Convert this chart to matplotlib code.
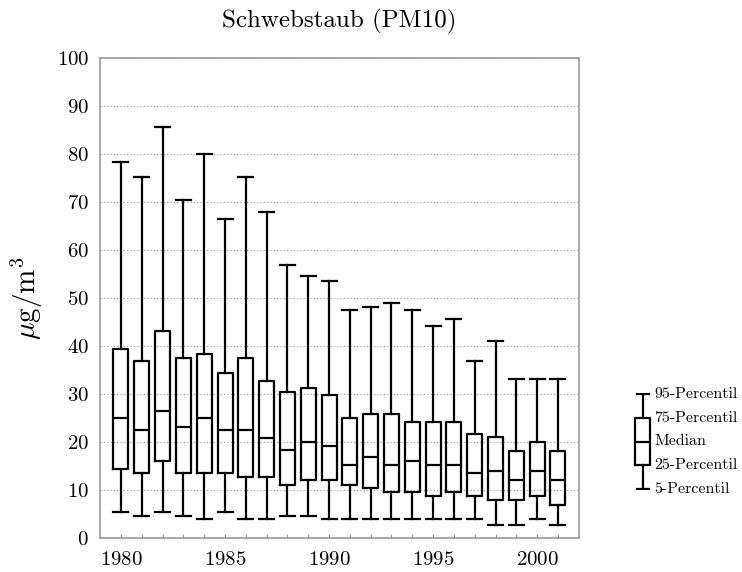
from matplotlib import pyplot as plt

plt.rcParams['font.family'] = ['cmr10', 'DejaVu Serif']
plt.rcParams['mathtext.fontset'] = 'cm'
plt.rcParams['axes.formatter.use_mathtext'] = True

# values (ug/m3)
years = list(range(1980, 2002))
p95 = [78.4, 75.2, 85.6, 70.5, 80.0, 66.4, 75.2, 67.9, 56.8, 54.5, 53.6,
       47.4, 48.2, 49.0, 47.4, 44.1, 45.6, 36.8, 41.1, 33.1, 33.1, 33.1]
p75 = [39.3, 36.8, 43.2, 37.5, 38.3, 34.4, 37.5, 32.8, 30.4, 31.2, 29.7,
       25.0, 25.9, 25.9, 24.2, 24.2, 24.2, 21.7, 21.0, 18.1, 20.1, 18.1]
median = [25.0, 22.5, 26.5, 23.2, 25.0, 22.5, 22.5, 20.9, 18.4, 20.1, 19.2,
          15.2, 16.8, 15.2, 16.0, 15.2, 15.2, 13.6, 14.0, 12.0, 14.0, 12.0]
p25 = [14.4, 13.6, 16.0, 13.6, 13.6, 13.6, 12.8, 12.8, 11.1, 12.0, 12.0,
       11.1, 10.4, 9.5, 9.5, 8.7, 9.5, 8.7, 7.9, 7.9, 8.8, 6.8]
p5 = [5.5, 4.6, 5.5, 4.6, 3.9, 5.5, 3.9, 3.9, 4.6, 4.6, 3.9,
      3.9, 3.9, 3.9, 3.9, 3.9, 3.9, 3.9, 2.8, 2.8, 3.9, 2.8]

legend_labels = ['5-Percentil', '25-Percentil', 'Median', '75-Percentil', '95-Percentil']
legend_levels = [0, 1, 2, 3, 4]

stats = []
for i in range(len(years)):
    stats.append(dict(whislo=p5[i], q1=p25[i], med=median[i], q3=p75[i],
                      whishi=p95[i], fliers=[]))

fig = plt.figure(figsize=(7.42, 5.72), dpi=100)
ax = fig.add_axes([0.135, 0.0594, 0.645, 0.8392])

line = dict(color='black', linewidth=1.6)
ax.bxp(stats, positions=years, widths=0.72, capwidths=0.72, showfliers=False,
       boxprops=line, whiskerprops=line, capprops=line, medianprops=line,
       manage_ticks=False)

ax.set_xlim(1979, 2002)
ax.set_ylim(0, 100)
ax.set_yticks(range(0, 101, 10))
ax.set_xticks(years, minor=True)
ax.set_xticks(range(1980, 2001, 5))
ax.tick_params(axis='y', length=0, labelsize=15, pad=8)
ax.tick_params(axis='x', which='both', direction='in', length=3,
               color='#888888', labelsize=15, pad=9)
ax.yaxis.grid(True, linestyle=(0, (1, 2)), color='#999999', linewidth=0.8)
ax.set_axisbelow(True)
for s in ax.spines.values():
    s.set_color('#999999')
    s.set_linewidth(1.2)

ax.set_ylabel(r'$\mu$g/m$^3$', fontsize=21, labelpad=8)
ax.set_title('Schwebstaub (PM10)', fontsize=18, pad=22)

# legend glyph
lax = fig.add_axes([0.8534, 0.143, 0.0256, 0.170])
lax.bxp([dict(whislo=0, q1=1, med=2, q3=3, whishi=4, fliers=[])],
        positions=[0], widths=0.8, capwidths=0.65, showfliers=False,
        boxprops=line, whiskerprops=line, capprops=line, medianprops=line,
        manage_ticks=False)
lax.set_xlim(-0.5, 0.5)
lax.set_ylim(-0.05, 4.05)
lax.axis('off')
for lv, lab in zip(legend_levels, legend_labels):
    lax.text(0.62, lv, lab, fontsize=11.5, va='center', ha='left',
             transform=lax.transData, clip_on=False)

fig.savefig('out.png', dpi=100)
